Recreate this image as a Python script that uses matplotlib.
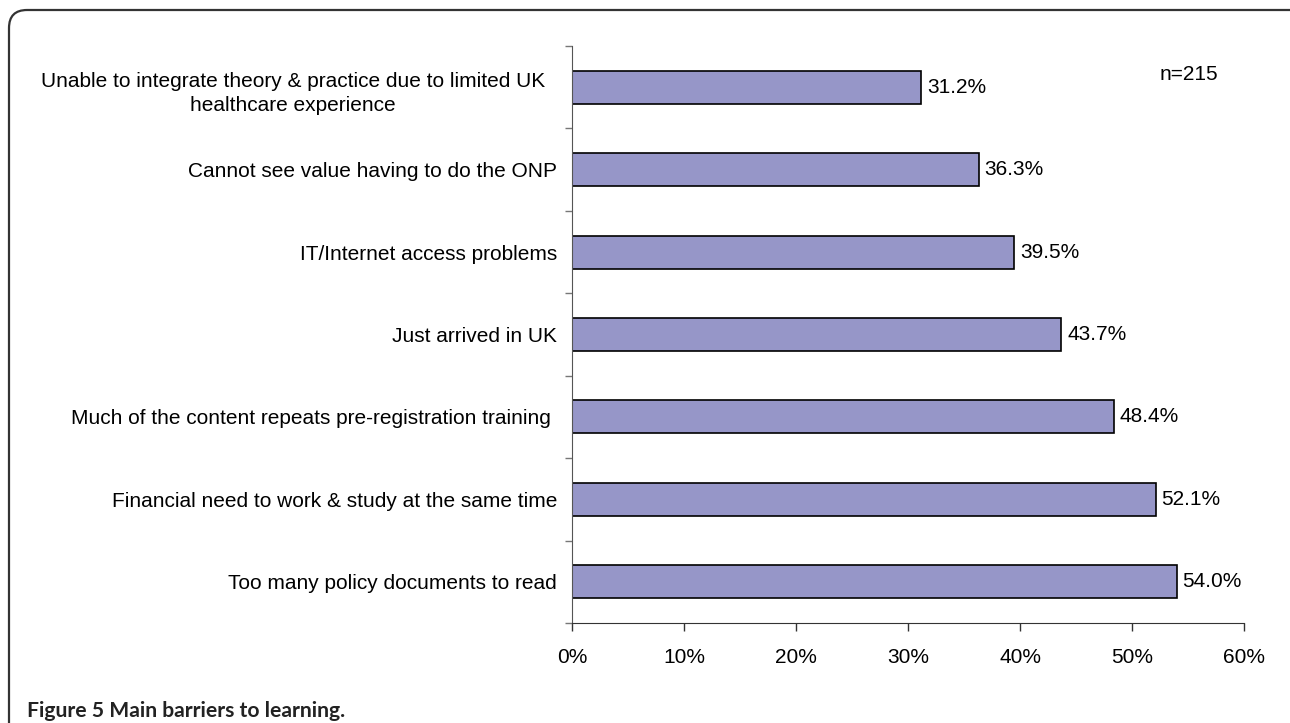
import matplotlib
matplotlib.use("Agg")
import matplotlib.pyplot as plt
from matplotlib.patches import FancyBboxPatch
from matplotlib.ticker import FixedLocator, PercentFormatter
from matplotlib.transforms import ScaledTranslation

plt.rcParams['font.family'] = ['Liberation Sans', 'DejaVu Sans']

categories = [
    "Unable to integrate theory & practice due to limited UK\nhealthcare experience",
    "Cannot see value having to do the ONP",
    "IT/Internet access problems",
    "Just arrived in UK",
    "Much of the content repeats pre-registration training ",
    "Financial need to work & study at the same time",
    "Too many policy documents to read",
]
values = [31.2, 36.3, 39.5, 43.7, 48.4, 52.1, 54.0]
x_ticks = [0, 10, 20, 30, 40, 50, 60]
sample_note = "n=215"
caption = "Figure 5 Main barriers to learning."

W, H = 1290, 723
FS = 15
fig = plt.figure(figsize=(W / 100, H / 100), dpi=100)

# outer rounded frame (open to the bottom and right edges)
frame = FancyBboxPatch((9 / W, -30 / H), (W + 20 - 9) / W, (713 + 30) / H,
                       boxstyle="round,pad=0,rounding_size=0.014",
                       transform=fig.transFigure, fill=False,
                       edgecolor="#333333", linewidth=1.6,
                       mutation_aspect=W / H)
fig.add_artist(frame)

ax = fig.add_axes([572 / W, 1 - 623 / H, (1244 - 572) / W, (623 - 46) / H])
pos = list(range(len(categories)))
ax.barh(pos, values, height=0.4, color="#9696C8", edgecolor="black",
        linewidth=1.2, zorder=2)
ax.set_ylim(len(categories) - 0.5, -0.5)
ax.set_xlim(0, 60)

for p, v in zip(pos, values):
    ax.text(v + 0.5, p, f"{v:.1f}%", va="center", ha="left", fontsize=FS)

ax.text(0.961, 0.950, sample_note, transform=ax.transAxes, fontsize=FS,
        ha="right", va="center")

# axes styling
for s in ("top", "right"):
    ax.spines[s].set_visible(False)
ax.spines["left"].set_color("#555555")
ax.spines["bottom"].set_color("#333333")
ax.xaxis.set_major_locator(FixedLocator(x_ticks))
ax.xaxis.set_major_formatter(PercentFormatter(decimals=0))
ax.tick_params(axis="x", direction="out", length=6, width=1, color="#333333",
               labelsize=FS, pad=12)

# category boundaries get ticks, centres carry the labels
ax.yaxis.set_major_locator(FixedLocator([p - 0.5 for p in pos] + [pos[-1] + 0.5]))
ax.yaxis.set_major_formatter(plt.NullFormatter())
ax.yaxis.set_minor_locator(FixedLocator(pos))
ax.set_yticklabels(categories, minor=True, multialignment="center",
                   linespacing=1.3)
ax.tick_params(axis="y", which="major", direction="out", length=5, width=1,
               color="#777777")
ax.tick_params(axis="y", which="minor", length=0, labelsize=FS, pad=10.8)

# the two-line label sits a little further from the axis
first = ax.yaxis.get_minorticklabels()[0]
first.set_transform(first.get_transform()
                    + ScaledTranslation(-12 / 100, -2 / 100, fig.dpi_scale_trans))

fig.text(27 / W, 1 - 717 / H, caption, fontsize=15.2, fontweight="bold",
         family="Lato", color="#222222", va="baseline", ha="left")

fig.savefig("out.png", dpi=100)
